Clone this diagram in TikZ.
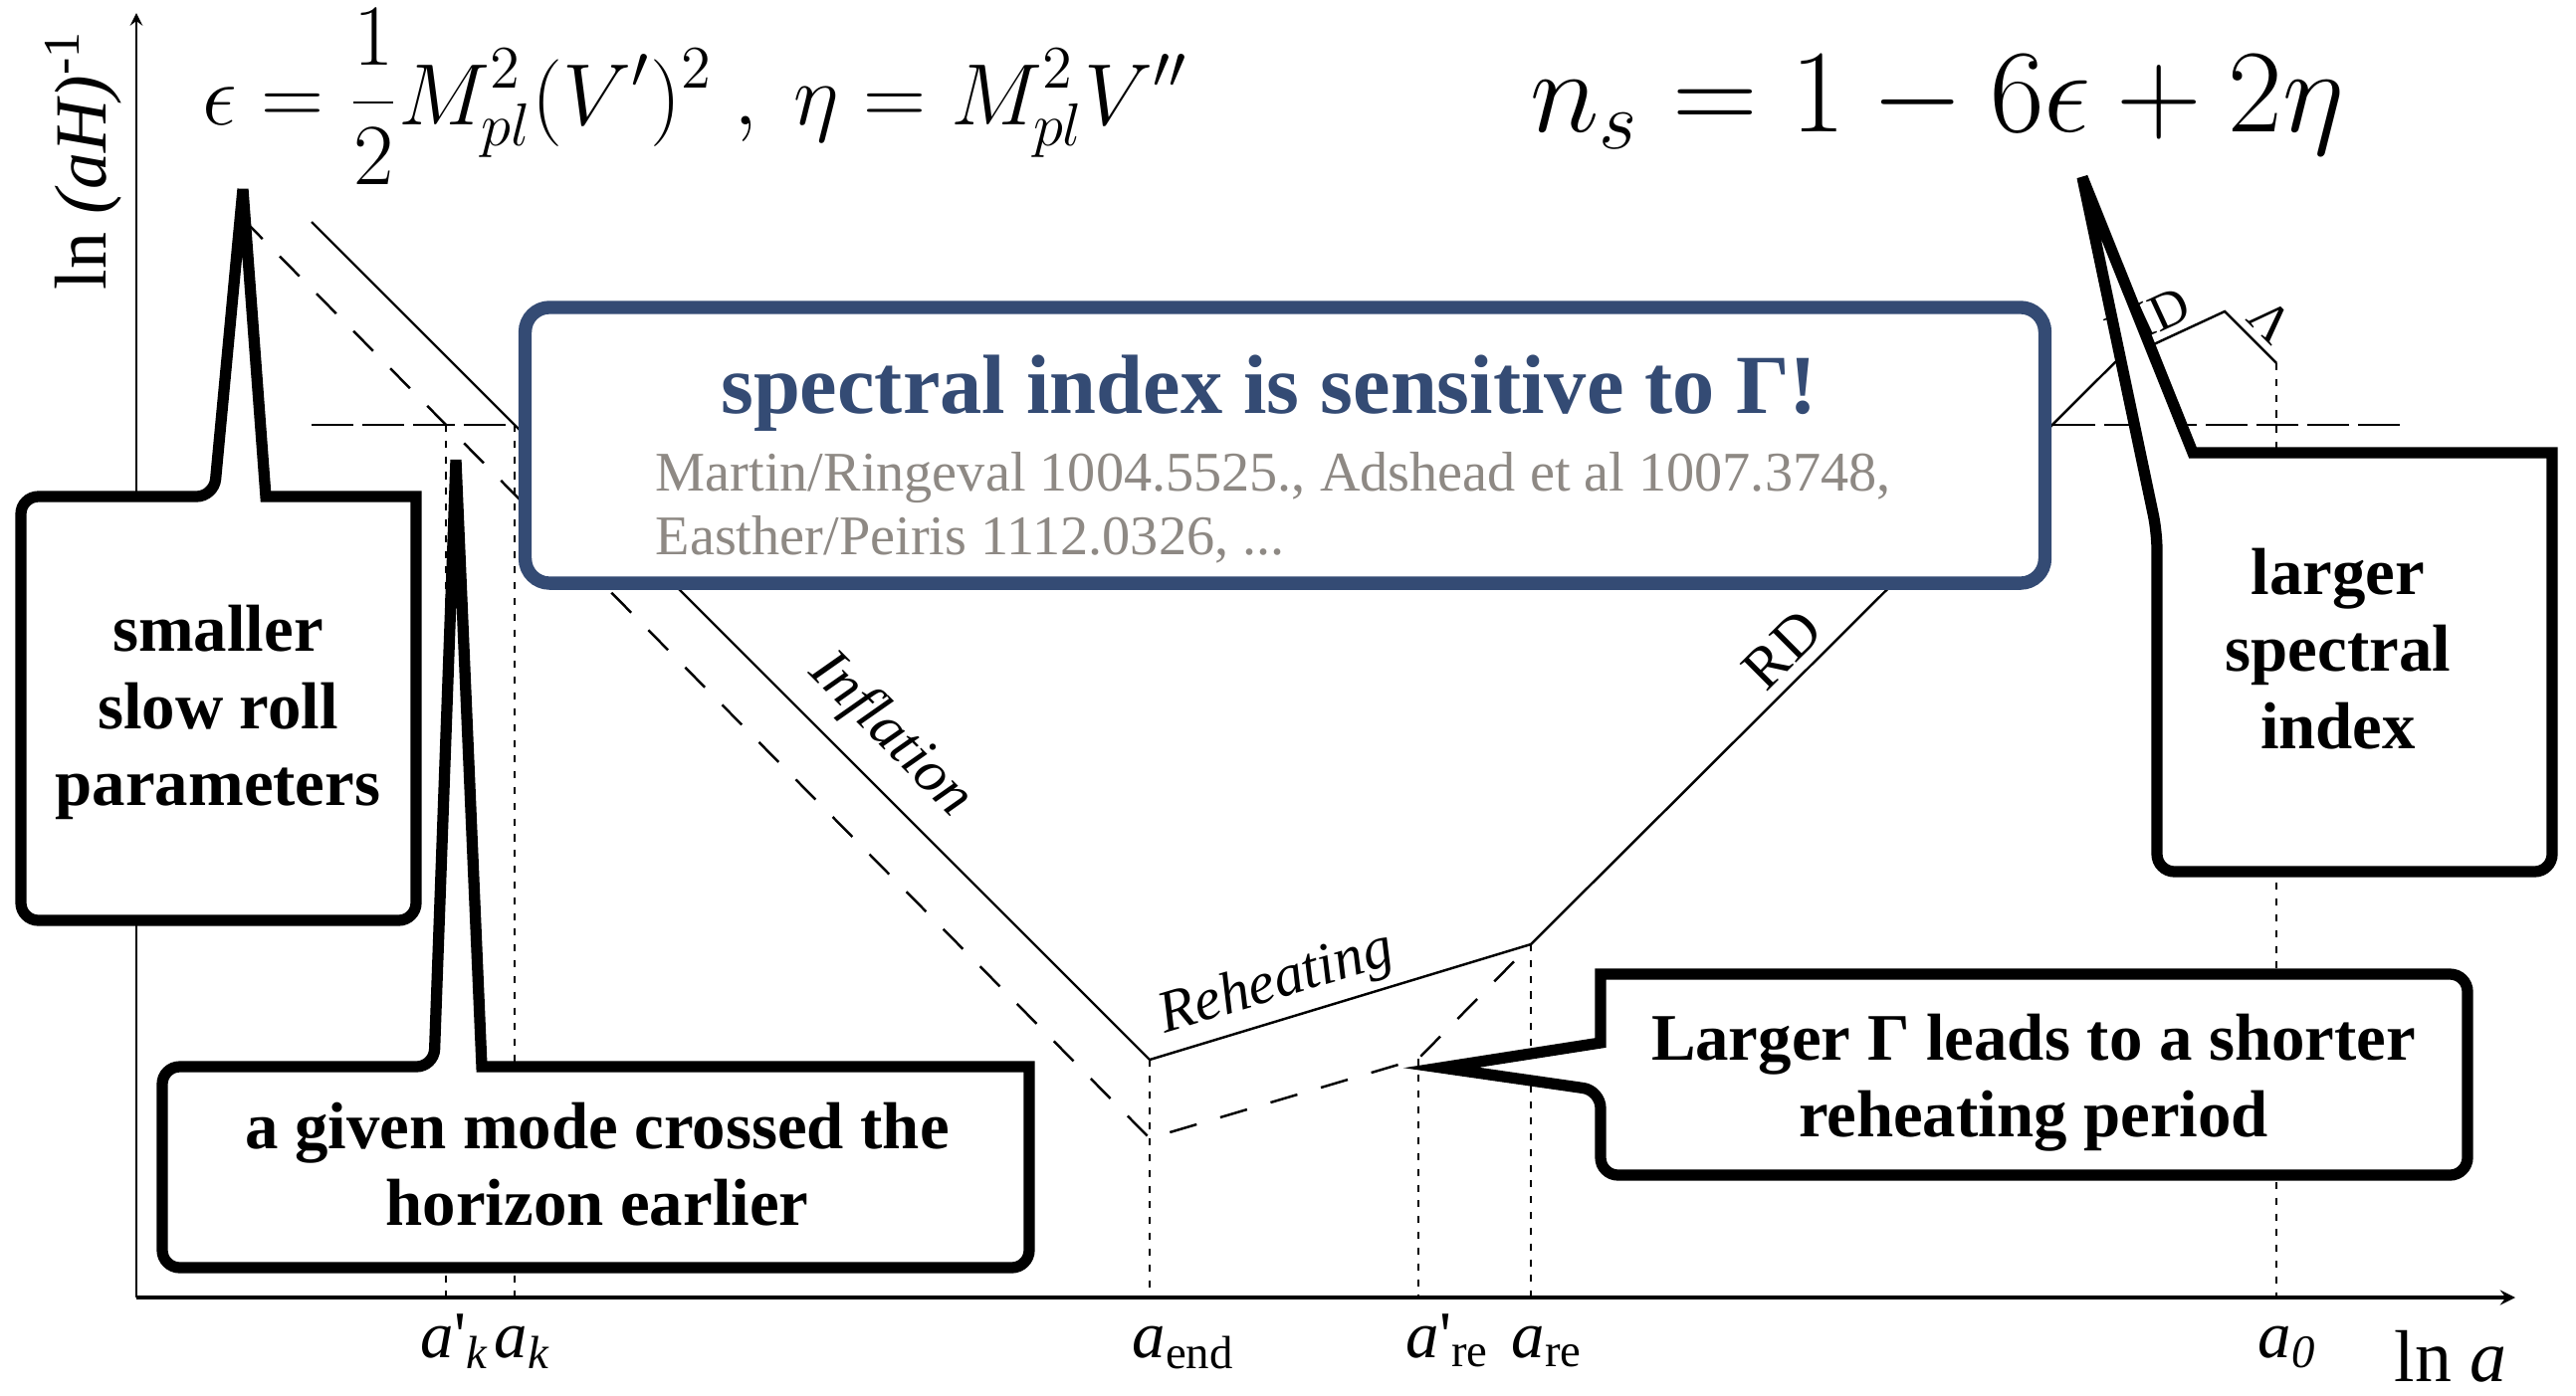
\documentclass[tikz,border=0pt]{standalone}
\usepackage[no-math]{fontspec}
\setmainfont{Liberation Serif}

\definecolor{slideblue}{RGB}{52,75,116}
\definecolor{citegray}{RGB}{142,137,132}

\tikzset{
  history/.style={line width=0.7pt},
  earlyhistory/.style={line width=0.7pt, dash pattern=on 8pt off 7pt},
  crossing/.style={line width=0.7pt, dash pattern=on 12pt off 2.5pt},
  guide/.style={line width=0.7pt, dash pattern=on 2pt off 2.5pt},
  balloon/.style={draw, fill=white, line width=3.2pt},
  balloontext/.style={font=\fontsize{19}{22}\selectfont\bfseries, align=center, inner sep=0pt},
  axlabel/.style={font=\fontsize{19}{22}\selectfont, anchor=base west, inner sep=0pt},
  phase/.style={font=\fontsize{17}{20}\selectfont, sloped, above, inner sep=2pt},
  formula/.style={anchor=base west, inner sep=0pt, font=\fontsize{20.74}{24}\selectfont},
}

\begin{document}
\begin{tikzpicture}[x=0.01cm, y=-0.01cm, >=stealth]
\useasboundingbox (0,0) rectangle (2588,1402);

% axes
\coordinate (O) at (137,1304);
\draw[->, line width=0.9pt] (O) -- (2527,1304) coordinate (xend);
\draw[->, line width=0.6pt] (O) -- (137,13) coordinate (yend);
\node[rotate=90, anchor=base, inner sep=0pt, font=\fontsize{21}{24}\selectfont] (ylab) at (106,161) {ln \textit{(aH)}\textsuperscript{-1}};
\node[anchor=base west, inner sep=0pt, font=\fontsize{21}{24}\selectfont] (xlab) at (2405,1388) {ln \textit{a}};

% corners of the two histories
\coordinate (k) at (517,427);
\coordinate (kp) at (448,427);
\coordinate (end) at (1155,1065);
\coordinate (endp) at (1155,1144);
\coordinate (re) at (1538,949);
\coordinate (rep) at (1425,1064);
\coordinate (eq) at (2125,364);
\coordinate (lam) at (2235,313);
\coordinate (now) at (2287,365);

% horizon crossing level
\draw[crossing] (313,427) -- (k);
\draw[crossing] (2063,427) -- (2418,427);

\foreach \p in {k,kp,end,rep,re,now}
  \draw[guide] (\p) -- (\p |- O);

\draw[history] (313,223) -- node[phase, pos=0.652, above=3pt] {\textit{Inflation}} (end)
  -- node[phase, pos=0.36] {\textit{Reheating}} (re)
  -- node[phase, pos=0.468, above=1pt] {RD} (eq)
  -- node[phase, pos=0.4, font=\fontsize{15}{18}\selectfont] {MD} (lam)
  -- node[phase, pos=0.54, font=\fontsize{15}{18}\selectfont] {Λ} (now);

\draw[earlyhistory] (244,220) -- (endp) -- (rep) -- (re);

% scale factors
\node[axlabel] (akp) at (422,1364) {\textit{a}\textquotesingle\textsubscript{\textit{k}}};
\node[axlabel] (ak) at (496,1364) {\textit{a}\textsubscript{\textit{k}}};
\node[axlabel] (aend) at (1137,1364) {\textit{a}\textsubscript{end}};
\node[axlabel] (arep) at (1412,1364) {\textit{a}\textquotesingle\textsubscript{re}};
\node[axlabel] (are) at (1518,1364) {\textit{a}\textsubscript{re}};
\node[axlabel] (anow) at (2268,1364) {\textit{a}\textsubscript{\textit{0}}};

% main message
\node[draw=slideblue, line width=3.8pt, fill=white, rounded corners=7pt,
  minimum width=15.26cm, minimum height=2.77cm, inner sep=0pt] (gammabox) at (1291,447.5) {};
\node[anchor=base, inner sep=0pt, text=slideblue, font=\fontsize{24}{28}\selectfont\bfseries] (gammatitle) at (1275,415) {spectral index is sensitive to Γ!};
\node[anchor=base west, inner sep=0pt, text=citegray, font=\fontsize{16}{19}\selectfont] (cite1) at (658,493) {Martin/Ringeval 1004.5525., Adshead et al 1007.3748,};
\node[anchor=base west, inner sep=0pt, text=citegray, font=\fontsize{16}{19}\selectfont] (cite2) at (658,557) {Easther/Peiris 1112.0326, ...};

% callouts
\coordinate (srtip) at (244,190);
\draw[balloon] (srtip) -- (267,499) -- (418,499) [rounded corners=5pt] -- (418,925) -- (21,925) -- (21,499) -- (215,499) [sharp corners] -- cycle;
\node[balloontext] (slowroll) at (219,716) {smaller\\slow roll\\parameters};

\coordinate (modetip) at (458,462);
\draw[balloon] (modetip) -- (484,1072) -- (1034,1072) [rounded corners=5pt] -- (1034,1274) -- (163,1274) -- (163,1072) -- (436,1072) [sharp corners] -- cycle;
\node[balloontext] (earlier) at (600,1170) {a given mode crossed the\\horizon earlier};

\coordinate (shorttip) at (1448,1073);
\draw[balloon] (shorttip) -- (1608,1048) -- (1608,979) [rounded corners=5pt] -- (2479,979) -- (2479,1181) -- (1608,1181) -- (1608,1096) [sharp corners] -- cycle;
\node[balloontext] (shorter) at (2043,1088) {Larger Γ leads to a shorter\\reheating period};

\coordinate (nstip) at (2092,178);
\draw[balloon] (nstip) -- (2203,455) -- (2564,455) [rounded corners=5pt] -- (2564,876) -- (2167,876) -- (2167,535) [sharp corners] -- cycle;
\node[balloontext] (larger) at (2349,652) {larger\\spectral\\index};

% formulas
\node[formula, scale=1.2] (slowrolleq) at (203,125) {$\displaystyle \epsilon = \frac{1}{2}M_{pl}^2(V')^2\ ,\ \eta = M_{pl}^2V''$};
\node[formula, scale=1.63] (nseq) at (1536,132) {$n_s = 1 - 6\epsilon + 2\eta$};
\end{tikzpicture}
\end{document}
